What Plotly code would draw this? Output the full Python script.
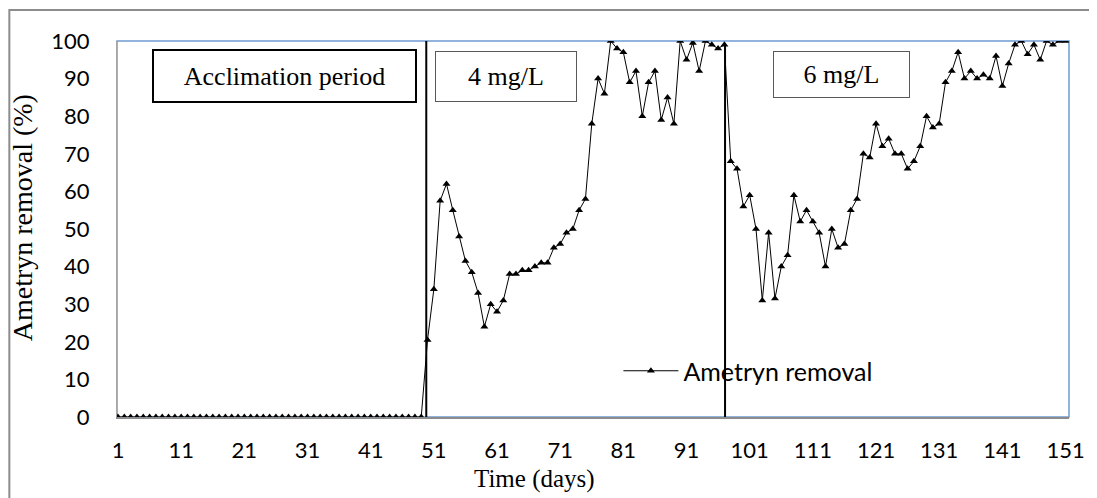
import plotly.graph_objects as go

# ---- data ----
days = list(range(1, 152))
acclimation = [0, 0, 0, 0, 0, 0, 0, 0, 0, 0,
               0, 0, 0, 0, 0, 0, 0, 0, 0, 0,
               0, 0, 0, 0, 0, 0, 0, 0, 0, 0,
               0, 0, 0, 0, 0, 0, 0, 0, 0, 0,
               0, 0, 0, 0, 0, 0, 0, 0, 0]          # days 1-49
phase_4mg = [20.5, 34, 57.5, 62, 55, 48, 41.5, 38.5, 33, 24,
             30, 28, 31, 38, 38, 39, 39, 40, 41, 41,
             45, 46, 49, 50, 55, 58, 78, 90, 86, 100,
             98, 97, 89, 92, 80, 89, 92, 79, 85, 78,
             100, 95, 99.5, 92, 100, 99, 98, 99]     # days 50-97
phase_6mg = [68, 66, 56, 59, 50, 31, 49, 31.5, 40, 43,
             59, 52, 55, 52, 49, 40, 50, 45, 46, 55,
             58, 70, 69, 78, 72, 74, 70, 70, 66, 68,
             72, 80, 77, 78, 89, 92, 97, 90, 92, 90,
             91, 90, 96, 88, 94, 99, 100, 96.5, 99, 95,
             100, 99, 100, 100]                      # days 98-151
removal = acclimation + phase_4mg + phase_6mg
x_ticks = [1, 11, 21, 31, 41, 51, 61, 71, 81, 91, 101, 111, 121, 131, 141, 151]
y_ticks = [0, 10, 20, 30, 40, 50, 60, 70, 80, 90, 100]
phase_starts = [49.8, 97.1]
phase_labels = ["Acclimation period", "4 mg/L", "6 mg/L"]

SERIF = "Liberation Serif, Times New Roman, serif"
SANS = "Lato, Carlito, Calibri, sans-serif"

fig = go.Figure()
fig.add_trace(go.Scatter(
    x=days, y=removal, mode="lines+markers", name="Ametryn removal",
    line=dict(color="black", width=1),
    marker=dict(symbol="triangle-up", size=7, color="black"),
))

OFF = 8  # page body margin
W, H = 1097 - OFF, 498 - OFF
ml, mt = 117 - OFF, 41 - OFF
mr = W - (1072 - OFF)
mb = H - (417 - OFF)
pw, ph = W - ml - mr, H - mt - mb

def px(xpage):
    return (xpage - OFF - ml) / pw

def py(ypage):
    return (H - mb - (ypage - OFF)) / ph

fig.update_layout(
    width=W, height=H,
    margin=dict(l=ml, r=mr, t=mt, b=mb),
    paper_bgcolor="white", plot_bgcolor="white",
    showlegend=True,
    legend=dict(x=px(620), y=py(371), xanchor="left", yanchor="middle",
                font=dict(family=SANS, size=25, color="black"),
                bgcolor="rgba(0,0,0,0)", itemwidth=55),
    xaxis=dict(range=[0.84, 151.55], tickmode="array", tickvals=x_ticks,
               ticktext=[str(t) for t in x_ticks], showgrid=False, zeroline=False,
               showline=True, linecolor="#8C8C8C", linewidth=2, ticks="",
               ticklabelstandoff=13,
               tickfont=dict(family=SANS, size=22, color="black")),
    yaxis=dict(range=[0, 100], tickmode="array", tickvals=y_ticks,
               showgrid=False, zeroline=False, showline=True,
               linecolor="#A6A6A6", linewidth=1, ticks="",
               ticklabelstandoff=22,
               tickfont=dict(family=SANS, size=22, color="black")),
)

# plot-area border (top / right blue)
fig.add_shape(type="rect", xref="paper", yref="paper", x0=0, x1=1, y0=0, y1=1,
              line=dict(color="#6E9BD3", width=1.5), layer="below")
# outer chart border (left edge as far left as the figure allows)
fig.add_shape(type="rect", xref="paper", yref="paper",
              x0=px(OFF + 1), x1=1.2, y0=-0.5, y1=py(10),
              line=dict(color="#8C8C8C", width=2), layer="below")

# phase separators
fig.add_shape(type="line", xref="x", yref="y", x0=phase_starts[0], x1=phase_starts[0],
              y0=0, y1=100, line=dict(color="black", width=2))
fig.add_shape(type="line", xref="x", yref="y", x0=phase_starts[1], x1=phase_starts[1],
              y0=0, y1=99, line=dict(color="black", width=2))

# text boxes
boxes = [
    (phase_labels[0], 285, 76, 259, 48, "black", 2),
    (phase_labels[1], 507, 76.5, 138, 47, "#595959", 1),
    (phase_labels[2], 843.5, 74.5, 133, 43, "#595959", 1),
]
for txt, cx, cy, w, h, bc, bw in boxes:
    fig.add_annotation(xref="paper", yref="paper", x=px(cx), y=py(cy),
                       xanchor="center", yanchor="middle", text=txt, showarrow=False,
                       width=w, height=h, bordercolor=bc, borderwidth=bw, borderpad=1,
                       bgcolor="white", font=dict(family=SERIF, size=26, color="black"))

# axis titles
fig.add_annotation(xref="paper", yref="paper", x=px(536), y=py(479),
                   text="Time (days)", showarrow=False, xanchor="center", yanchor="middle",
                   font=dict(family=SERIF, size=25, color="black"))
fig.add_annotation(xref="paper", yref="paper", x=px(22), y=py(218),
                   text="Ametryn removal (%)", showarrow=False, textangle=-90,
                   xanchor="center", yanchor="middle",
                   font=dict(family=SERIF, size=28, color="black"))

fig.write_html("out.html")
